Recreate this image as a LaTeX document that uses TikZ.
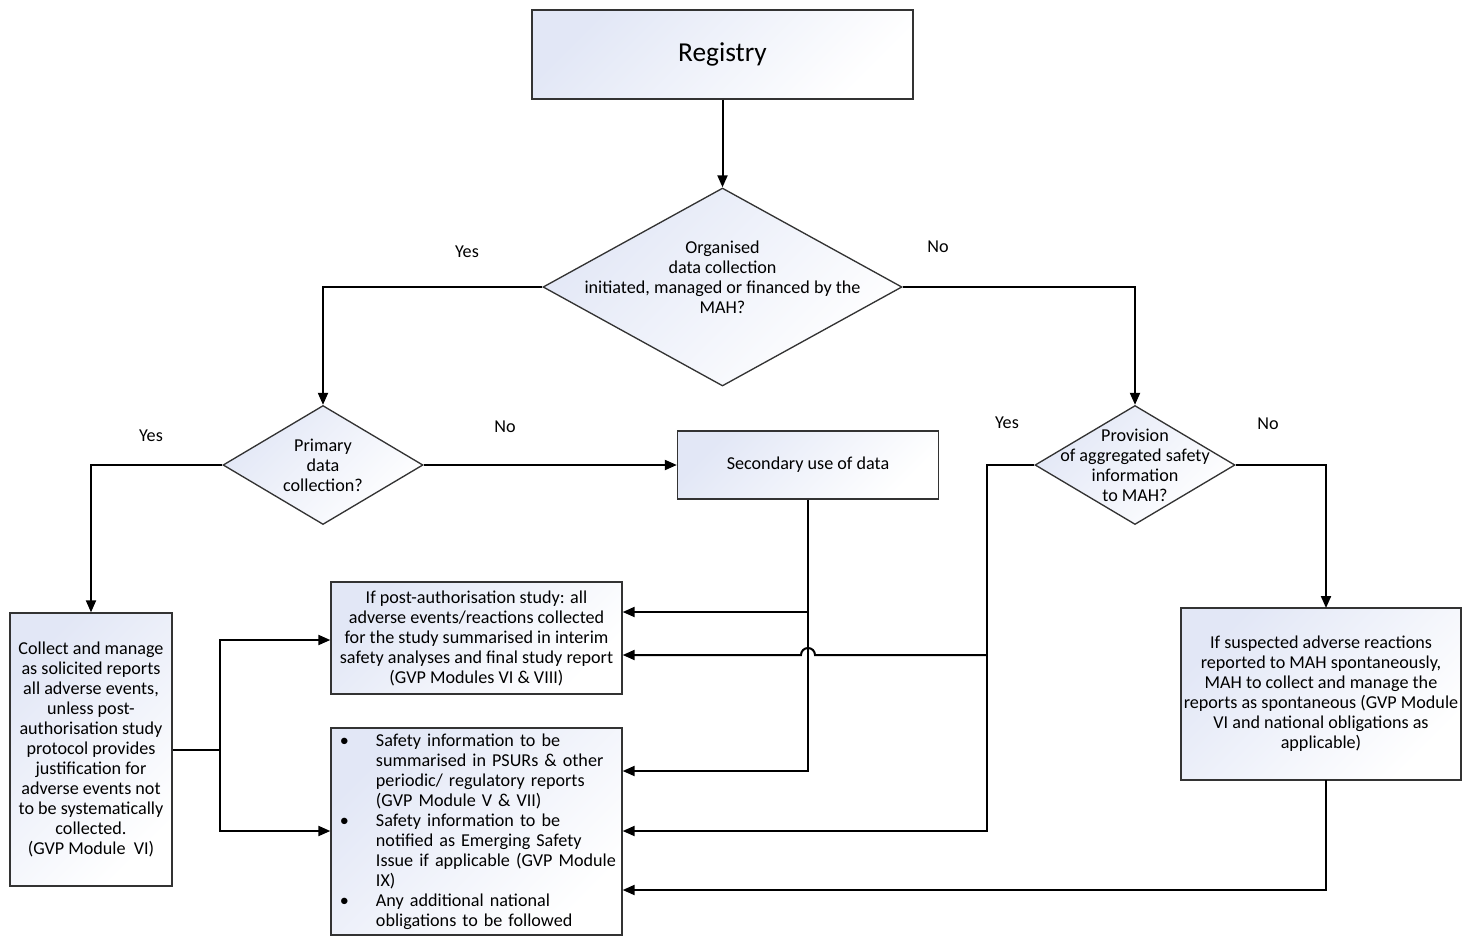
\documentclass[tikz,border=0pt]{standalone}
\usepackage{fontspec}
\setmainfont{Carlito}
\usetikzlibrary{shapes.geometric,arrows.meta}
\definecolor{shadeblue}{RGB}{226,231,246}
\newcommand{\fs}{\fontsize{13.6}{15}\selectfont}
\newcommand{\fr}{\fontsize{20.5}{24}\selectfont}
\tikzset{
  bx/.style={draw=black!80, line width=1pt, top color=shadeblue, bottom color=white, shading angle=45, font=\fs, align=center, inner sep=1pt},
  dia/.style={diamond, bx, inner sep=0pt},
  conn/.style={line width=1.5pt, line join=miter},
  conna/.style={conn, -{Triangle[length=9pt,width=7.5pt]}},
  lab/.style={font=\fs, align=center}
}
\begin{document}
\begin{tikzpicture}[x=0.75pt, y=-0.75pt]
\useasboundingbox (0,0) rectangle (1464,936);
% nodes
\node[bx, font=\fr, minimum width=285.75pt, minimum height=66.75pt] (reg) at (722.5,54.5) {Registry};
\node[dia, minimum width=269.25pt, minimum height=148.5pt] (d1) at (722.5,287) {};
\node[lab] (t1) at (722.5,277) {Organised\\data collection\\initiated, managed or financed by the\\MAH?};
\node[dia, minimum width=150pt, minimum height=89.25pt] (d2) at (323,465) {};
\node[lab] (t2) at (323,465) {Primary\\data\\collection?};
\node[dia, minimum width=150pt, minimum height=89.25pt] (d3) at (1135,465) {};
\node[lab] (t3) at (1135,465) {Provision\\of aggregated safety\\information\\to MAH?};
\node[bx, minimum width=195.75pt, minimum height=51pt] (sec) at (808,465) {Secondary use of data};
\node[bx, minimum width=121.5pt, minimum height=204.75pt] (lft) at (91,749.5) {Collect and manage\\as solicited reports\\all adverse events,\\unless post-\\authorisation study\\protocol provides\\justification for\\adverse events not\\to be systematically\\collected.\\(GVP Module~~VI)};
\node[bx, minimum width=218.25pt, minimum height=84pt] (boxA) at (476.5,638) {If post-authorisation study: all\\adverse events/reactions collected\\for the study summarised in interim\\safety analyses and final study report\\(GVP Modules VI \& VIII)};
\node[bx, minimum width=218.25pt, minimum height=155.25pt, text width=214pt, inner sep=0pt, align=left] (boxB) at (476.5,831.5) {\raggedright\leftskip=4.6pt
\noindent\hangindent=27pt\hangafter=1\makebox[27pt][l]{\textbullet}Safety information to be\newline summarised in PSURs \& other\newline periodic/ regulatory reports\newline (GVP Module V \& VII)\par
\noindent\hangindent=27pt\hangafter=1\makebox[27pt][l]{\textbullet}Safety information to be\newline notified as Emerging Safety\newline Issue if applicable (GVP Module\newline IX)\par
\noindent\hangindent=27pt\hangafter=1\makebox[27pt][l]{\textbullet}Any additional national\newline obligations to be followed\par};
\node[bx, minimum width=210pt, minimum height=129pt] (rgt) at (1321,694) {If suspected adverse reactions\\reported to MAH spontaneously,\\MAH to collect and manage the\\reports as spontaneous (GVP Module\\VI and national obligations as\\applicable)};
% labels
\node[lab] (y1) at (467,252) {Yes};
\node[lab] (n1) at (938,247) {No};
\node[lab] (y2) at (151,436) {Yes};
\node[lab] (n2) at (505,427) {No};
\node[lab] (y3) at (1007,423) {Yes};
\node[lab] (n3) at (1268,424) {No};
% coordinates
\coordinate (ya) at (0,640);
\coordinate (yb) at (0,831);
\coordinate (lj) at (220,749.5);
\coordinate (ys1) at (0,612);
\coordinate (ys2) at (0,771);
\coordinate (vx) at (987,831);
\coordinate (h0) at (987,655);
\coordinate (h1) at (815,655);
\coordinate (rt) at (1326,608);
\coordinate (rb) at (1326,780);
\coordinate (yc) at (0,890);
% connectors
\draw[conna] (reg.south) -- (d1.north);
\draw[conna] (d1.west) -| (d2.north);
\draw[conna] (d1.east) -| (d3.north);
\draw[conna] (d2.east) -- (sec.west);
\draw[conna] (d2.west) -| (lft.north);
\draw[conn] (lft.east) -- (lj);
\draw[conna] (lj) |- (boxA.west |- ya);
\draw[conna] (lj) |- (boxB.west |- yb);
\draw[conna] (sec.south) |- (boxB.east |- ys2);
\draw[conna] (sec.south |- ys1) -- (boxA.east |- ys1);
\draw[conna] (d3.west) -| (vx) -- (boxB.east |- vx);
\draw[conna] (h0) -- (h1) arc[start angle=0, end angle=180, radius=5.25pt] -- (boxA.east |- h0);
\draw[conna] (d3.east) -| (rt);
\draw[conna] (rb) |- (boxB.east |- yc);
\end{tikzpicture}
\end{document}
